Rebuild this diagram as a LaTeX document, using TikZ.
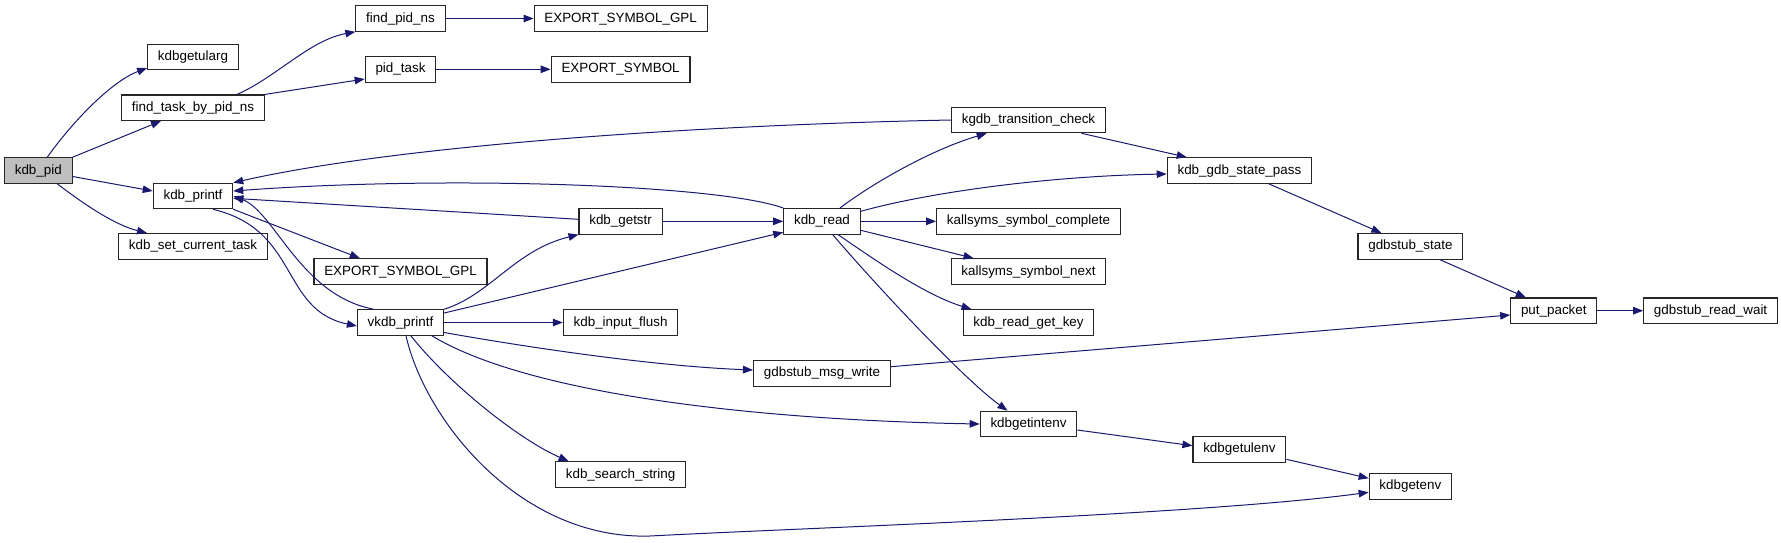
\documentclass[tikz,border=0pt]{standalone}
\usepackage{fontspec}
\setmainfont{Liberation Sans}
\usepackage{tikz}
\usetikzlibrary{arrows.meta}
\definecolor{callblue}{RGB}{25,25,112}
\definecolor{rootgray}{RGB}{191,191,191}

\begin{document}
\begin{tikzpicture}[x=1pt,y=-1pt,
    fn/.style={draw=black!85, line width=1.1pt, fill=white, rectangle,
      minimum height=25.5pt, inner xsep=10.3pt, inner ysep=0pt,
      text height=10pt, text depth=3pt,
      font=\fontsize{13.4pt}{16pt}\selectfont},
    root/.style={fn, fill=rootgray},
    call/.style={draw=callblue, line width=1pt, -{Triangle[length=10pt,width=7.5pt]}}]
  \useasboundingbox (0,0) rectangle (1781,542);

  % call graph nodes, one column per depth
  \node[root] (pid)      at (38.3,170.5)  {kdb\_pid};
  \node[fn] (getularg)   at (193,57)      {kdbgetularg};
  \node[fn] (findtask)   at (193,107.7)   {find\_task\_by\_pid\_ns};
  \node[fn] (printf)     at (193,196)     {kdb\_printf};
  \node[fn] (settask)    at (193,246.3)   {kdb\_set\_current\_task};
  \node[fn] (findpid)    at (400.5,18.5)  {find\_pid\_ns};
  \node[fn] (pidtask)    at (400.5,69.3)  {pid\_task};
  \node[fn] (gplb)       at (400.5,271.5) {EXPORT\_SYMBOL\_GPL};
  \node[fn] (vkdb)       at (400.5,322.5) {vkdb\_printf};
  \node[fn] (gpla)       at (620.6,18.5)  {EXPORT\_SYMBOL\_GPL};
  \node[fn] (expsym)     at (620.6,69.3)  {EXPORT\_SYMBOL};
  \node[fn] (getstr)     at (620.6,221.3) {kdb\_getstr};
  \node[fn] (flush)      at (620.6,322.5) {kdb\_input\_flush};
  \node[fn] (search)     at (620.6,474.5) {kdb\_search\_string};
  \node[fn] (kread)      at (822,221.3)   {kdb\_read};
  \node[fn] (msgwrite)   at (822,373.3)   {gdbstub\_msg\_write};
  \node[fn] (transition) at (1028.5,120)  {kgdb\_transition\_check};
  \node[fn] (complete)   at (1028.5,221.3) {kallsyms\_symbol\_complete};
  \node[fn] (symnext)    at (1028.5,271.5) {kallsyms\_symbol\_next};
  \node[fn] (getkey)     at (1028.5,322.5) {kdb\_read\_get\_key};
  \node[fn] (intenv)     at (1028.5,424)  {kdbgetintenv};
  \node[fn] (statepass)  at (1239.4,170.5) {kdb\_gdb\_state\_pass};
  \node[fn] (ulenv)      at (1239.4,449.3) {kdbgetulenv};
  \node[fn] (gstate)     at (1410.4,246.3) {gdbstub\_state};
  \node[fn] (getenv)     at (1410.4,486.3) {kdbgetenv};
  \node[fn] (putpkt)     at (1553.8,310.7) {put\_packet};
  \node[fn] (readwait)   at (1710.6,310.7) {gdbstub\_read\_wait};

  % calls from kdb_pid
  \draw[call] ([xshift=9pt]pid.north) .. controls (70,125) and (110,82) .. ([yshift=-11pt]getularg.west);
  \draw[call] (pid.north east) -- ([xshift=-32pt]findtask.south);
  \draw[call] ([yshift=-6pt]pid.east) -- ([yshift=5pt]printf.west);
  \draw[call] ([xshift=19pt]pid.south) .. controls (85,205) and (115,225) .. ([xshift=-46pt]settask.north);

  % find_task_by_pid_ns
  \draw[call] ([xshift=44pt]findtask.north) .. controls (275,78) and (310,40) .. (findpid.south west);
  \draw[call] (findtask.north east) -- ([yshift=-9.7pt]pidtask.west);
  \draw[call] (findpid) -- (gpla);
  \draw[call] (pidtask) -- (expsym);

  % kdb_printf <-> vkdb_printf
  \draw[call] (printf.south east) -- ([xshift=-40.7pt]gplb.north);
  \draw[call] ([xshift=20pt]printf.south) .. controls (300,230) and (280,310) .. ([yshift=-3.5pt]vkdb.west);
  \draw[call] ([xshift=-27pt]vkdb.north) .. controls (300,295) and (275,212) .. (printf.east);

  % vkdb_printf
  \draw[call] (vkdb.north east) .. controls (490,295) and (515,250) .. (getstr.south west);
  \draw[call] ([yshift=9.5pt]vkdb.east) -- ([yshift=-11pt]kread.west);
  \draw[call] (vkdb) -- (flush);
  \draw[call] ([yshift=-10pt]vkdb.east) .. controls (520,346) and (650,366) .. ([yshift=3.3pt]msgwrite.west);
  \draw[call] ([xshift=31.4pt]vkdb.south) .. controls (530,395) and (760,420) .. (intenv.west);
  \draw[call] ([xshift=10.4pt]vkdb.south) .. controls (450,385) and (520,440) .. ([xshift=-52pt]search.north);
  \draw[call] ([xshift=5.5pt]vkdb.south) .. controls (425,420) and (520,540) .. (650,536)
    .. controls (800,528) and (1200,515) .. ([yshift=-6pt]getenv.west);

  % kdb_getstr
  \draw[call] ([yshift=2pt]getstr.west) -- ([yshift=-2.3pt]printf.east);
  \draw[call] (getstr) -- (kread);

  % kdb_read
  \draw[call] (kread.north west) .. controls (720,185) and (450,175) .. ([yshift=5pt]printf.east);
  \draw[call] ([xshift=18pt]kread.north) .. controls (870,185) and (930,150) .. ([xshift=-41.8pt]transition.south);
  \draw[call] ([yshift=10pt]kread.east) .. controls (930,192) and (1050,176) .. ([yshift=-3.5pt]statepass.west);
  \draw[call] (kread) -- (complete);
  \draw[call] ([yshift=-9pt]kread.east) -- ([xshift=-55pt]symnext.north);
  \draw[call] ([xshift=16pt]kread.south) .. controls (875,260) and (925,295) .. ([xshift=-57pt]getkey.north);
  \draw[call] ([xshift=10.7pt]kread.south) .. controls (880,290) and (965,380) .. ([xshift=-21pt]intenv.north);

  % kgdb_transition_check
  \draw[call] (transition.west) .. controls (700,125) and (400,145) .. (printf.north east);
  \draw[call] ([xshift=53pt]transition.south) -- ([xshift=-52.7pt]statepass.north);

  % gdb state and packets
  \draw[call] ([xshift=29.3pt]statepass.south) -- ([xshift=-29pt]gstate.north);
  \draw[call] ([xshift=29.3pt]gstate.south) -- ([xshift=-28pt]putpkt.north);
  \draw[call] ([yshift=6.6pt]msgwrite.east) -- ([yshift=-4.3pt]putpkt.west);
  \draw[call] (putpkt) -- (readwait);

  % environment lookups
  \draw[call] ([yshift=-6pt]intenv.east) -- ([yshift=3.6pt]ulenv.west);
  \draw[call] ([yshift=-10pt]ulenv.east) -- ([yshift=8pt]getenv.west);
\end{tikzpicture}
\end{document}
